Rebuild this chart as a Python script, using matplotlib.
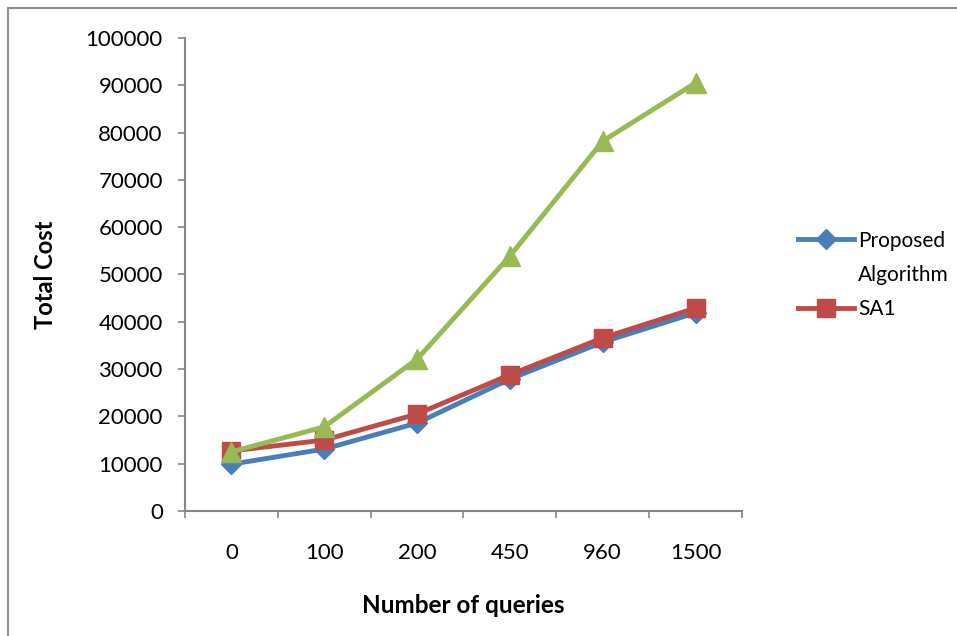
import matplotlib
matplotlib.use("Agg")
import matplotlib.pyplot as plt
from matplotlib.lines import Line2D

plt.rcParams['font.family'] = ['Lato', 'DejaVu Sans']

queries = ["0", "100", "200", "450", "960", "1500"]
proposed = [9900, 13100, 18600, 27900, 35700, 41900]
sa1 = [12700, 15000, 20500, 28800, 36600, 42900]
sa2 = [12500, 17800, 32100, 53900, 78200, 90500]

blue = "#4A7EBB"
red = "#BE4B48"
green = "#98B954"
axis_grey = "#868686"

fig = plt.figure(figsize=(9.57, 6.36), dpi=100)
ax = fig.add_axes([0.1933, 0.1965, 0.582, 0.7438])

x = range(len(queries))
ax.plot(x, proposed, color=blue, lw=3.5, marker="D", ms=10, zorder=3)
ax.plot(x, sa1, color=red, lw=3.5, marker="s", ms=12.5, zorder=4)
ax.plot(x, sa2, color=green, lw=3.5, marker="^", ms=15, zorder=5)

ax.set_xlim(-0.5, len(queries) - 0.5)
ax.set_ylim(0, 100000)
ax.set_yticks(range(0, 100001, 10000))
ax.set_xticks(list(x))
ax.set_xticklabels(queries)
ax.set_xticks([i - 0.5 for i in range(len(queries) + 1)], minor=True)
ax.tick_params(axis="x", which="major", length=0, pad=23, labelsize=16)
ax.tick_params(axis="x", which="minor", length=5, color=axis_grey, width=1.2, direction="out")
ax.tick_params(axis="y", length=5, color=axis_grey, width=1.2, pad=11, labelsize=16)

for side in ("top", "right"):
    ax.spines[side].set_visible(False)
for side in ("left", "bottom"):
    ax.spines[side].set_color(axis_grey)
    ax.spines[side].set_linewidth(1.5)

ax.set_xlabel("Number of queries", fontsize=17.5, fontweight="bold", va="center")
ax.xaxis.set_label_coords(0.5, -0.199)
ax.set_ylabel("Total Cost", fontsize=17, fontweight="bold", va="center")
ax.yaxis.set_label_coords(-0.251, 0.5)

# legend: first entry wraps onto a second line with no handle
handles = [
    Line2D([], [], color=blue, lw=3.5, marker="D", ms=10),
    Line2D([], [], color="none"),
    Line2D([], [], color=red, lw=3.5, marker="s", ms=12.5),
]
fig.legend(handles, ["Proposed", "Algorithm", "SA1"], loc="upper left",
           bbox_to_anchor=(0.814, 0.667), frameon=False, fontsize=15,
           handlelength=2.7, handletextpad=0.2, labelspacing=0.68)

# chart-area border (left and top edges)
fig.add_artist(Line2D([0.0085, 0.0085], [0, 0.988], color="#909090", lw=1.5,
                      transform=fig.transFigure))
fig.add_artist(Line2D([0.0085, 1.0], [0.988, 0.988], color="#909090", lw=1.5,
                      transform=fig.transFigure))

fig.savefig("out.png", dpi=100)
